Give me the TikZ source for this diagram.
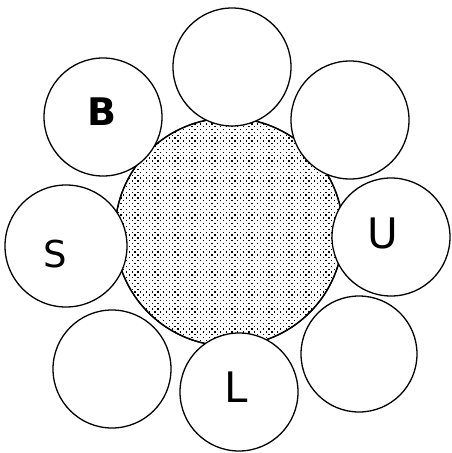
\documentclass[tikz,border=0pt]{standalone}
\usepackage{fontspec}
\setmainfont{DejaVu Sans}

\begin{document}
\begin{tikzpicture}[
		x=1pt,
		y=-1pt,
		core/.style={circle, draw=black, line width=1.3pt, inner sep=0pt, minimum size=228pt},
		petal/.style={circle, draw=black, line width=1.3pt, fill=white, inner sep=0pt, minimum size=118pt},
		tag/.style={inner sep=0pt, font=\fontsize{42}{42}\selectfont}
		]
		\useasboundingbox (0,0) rectangle (451,453);
		
		% central disc, dotted
		\node[core] (core) at (229,232) {};
		\begin{scope}
			\clip (229,232) circle (114pt);
			\foreach \j in {0,...,82} {
				\foreach \i in {0,...,40} {
					\fill ({114.5+\i*5.7+mod(\j,2)*2.85},{117.5+\j*2.85}) rectangle ++(1.3,1.3);
				}
			}
		\end{scope}
		\draw[line width=1.3pt] (core.center) circle (114pt);
		
		% ring of circles
		\node[petal] (pTop) at (232,67) {};
		\node[petal] (pTopRight) at (350,120) {};
		\node[petal] (pRight) at (391,237) {};
		\node[petal, minimum size=116pt] (pBotRight) at (359,354) {};
		\node[petal] (pBot) at (239,392) {};
		\node[petal] (pBotLeft) at (112,369) {};
		\node[petal, minimum size=122pt] (pLeft) at (66,246) {};
		\node[petal] (pTopLeft) at (103,117) {};
		
		% letters
		\node[tag, font=\fontsize{38}{38}\selectfont\bfseries] (tB) at (102,112) {B};
		\node[tag, font=\fontsize{37}{37}\selectfont] (tS) at (55,254) {S};
		\node[tag] (tU) at (383,233) {U};
		\node[tag] (tL) at (236,387) {L};
		
	\end{tikzpicture}
\end{document}
